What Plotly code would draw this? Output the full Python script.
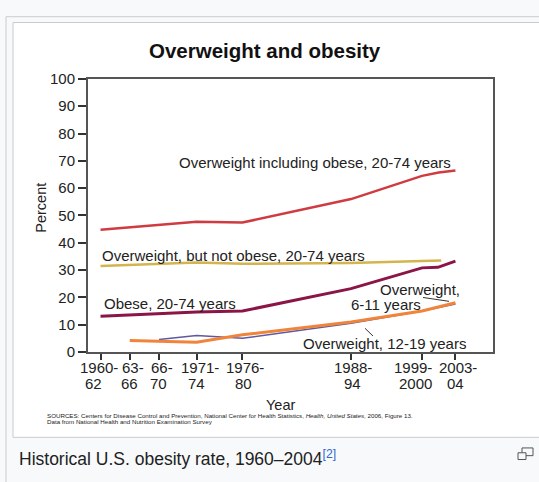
import plotly.graph_objects as go

W, H = 539, 482

# ---- data ----
tick_pos = [1961, 1964.5, 1968, 1972.5, 1978, 1991, 1999.5, 2003.5]
tick_top = ["1960-", "63-", "66-", "1971-", "1976-", "1988-", "1999-", "2003-"]
tick_bot = ["62", "66", "70", "74", "80", "94", "2000", "04"]

ow_incl_x = [1961, 1972.5, 1978, 1991, 1999.5, 2001.5, 2003.5]
ow_incl_y = [44.8, 47.7, 47.4, 56.0, 64.5, 65.7, 66.5]

ow_not_x = [1961, 1972.5, 1978, 1991, 1999.5, 2001.8]
ow_not_y = [31.5, 32.8, 32.3, 32.6, 33.3, 33.5]

obese_x = [1961, 1972.5, 1978, 1991, 1999.5, 2001.4, 2003.5]
obese_y = [13.1, 14.6, 15.0, 23.2, 30.8, 31.0, 33.3]

ow611_x = [1964.5, 1968, 1972.5, 1978, 1991, 1999.5, 2003.5]
ow611_y = [4.2, 4.0, 3.6, 6.3, 11.0, 15.0, 18.0]

ow1219_x = [1968, 1972.5, 1978, 1991, 1999.5, 2003.5]
ow1219_y = [4.6, 6.0, 5.0, 10.5, 15.0, 17.6]

FONT = "Liberation Sans, Arial, sans-serif"

# label nudges (pixels) for the two-line tick labels
top_shift = [-2, 3, 3, 3, 3, 2, -9, 3]
bot_shift = [-7, 0, 0, 0, 1, 1, -7, 0]


def px(x):
    return x / W


def py(y):
    return 1 - y / H


fig = go.Figure()
series = [
    (ow_incl_x, ow_incl_y, "#cf3b40", 2.5),
    (ow_not_x, ow_not_y, "#d4b44e", 2.5),
    (obese_x, obese_y, "#8a1546", 3),
    (ow1219_x, ow1219_y, "#5d5aa0", 1.5),
    (ow611_x, ow611_y, "#f0843a", 3),
]
for xs, ys, c, w in series:
    fig.add_trace(go.Scatter(x=xs, y=ys, mode="lines", line=dict(color=c, width=w),
                             showlegend=False, hoverinfo="skip"))

shapes = [
    dict(type="rect", xref="paper", yref="paper", x0=px(6), x1=px(560), y0=py(8), y1=py(500),
         line=dict(color="#c8ccd1", width=1), fillcolor="#f8f9fa", layer="below"),
    dict(type="rect", xref="paper", yref="paper", x0=px(13), x1=px(560), y0=py(14), y1=py(444),
         line=dict(color="#c8ccd1", width=1), fillcolor="#ffffff", layer="below"),
    dict(type="line", xref="paper", yref="paper", x0=px(423), y0=py(299), x1=px(449), y1=py(303),
         line=dict(color="#333", width=1)),
    dict(type="line", xref="paper", yref="paper", x0=px(365), y0=py(331), x1=px(373), y1=py(339),
         line=dict(color="#333", width=1)),
    dict(type="rect", xref="paper", yref="paper", x0=px(522), x1=px(533), y0=py(455), y1=py(463),
         line=dict(color="#555", width=1)),
    dict(type="rect", xref="paper", yref="paper", x0=px(518), x1=px(526), y0=py(460), y1=py(467),
         line=dict(color="#555", width=1), fillcolor="#f8f9fa"),
]

ann = []


def text(t, x, y, size, xanchor="left", color="#222", angle=0):
    ann.append(dict(text=t, x=px(x), y=py(y), xref="paper", yref="paper", showarrow=False,
                    xanchor=xanchor, yanchor="middle", textangle=angle,
                    font=dict(family=FONT, size=size, color=color)))


for v, t1, t2, s1, s2 in zip(tick_pos, tick_top, tick_bot, top_shift, bot_shift):
    ann.append(dict(text=t1, x=v, xref="x", y=py(372), yref="paper", showarrow=False,
                    xanchor="center", yanchor="middle", xshift=s1,
                    font=dict(family=FONT, size=15, color="#222")))
    ann.append(dict(text=t2, x=v, xref="x", y=py(388), yref="paper", showarrow=False,
                    xanchor="center", yanchor="middle", xshift=s2,
                    font=dict(family=FONT, size=15, color="#222")))

text("<b>Overweight and obesity</b>", 265, 43, 20.5, "center", "#111")
text("Percent", 41, 206, 14.5, "center", angle=-90)
text("Year", 280, 410, 14.5, "center")
text("Overweight including obese, 20-74 years", 177, 159, 15)
text("Overweight, but not obese, 20-74 years", 100, 255, 15)
text("Obese, 20-74 years", 102, 305, 15)
text("Overweight,", 378, 291, 15)
text("6-11 years", 349, 306, 15)
text("Overweight, 12-19 years", 301, 347, 15)
text("SOURCES: Centers for Disease Control and Prevention, National Center for Health Statistics, "
     "<i>Health, United States</i>, 2006, Figure 13.", 45, 421, 6.2)
text("Data from National Health and Nutrition Examination Survey", 45, 428, 6.2)
text("Historical U.S. obesity rate, 1960\u20132004<sup><span style='color:#3366cc'>[2]</span></sup>",
     17, 465, 17.5, color="#202122")

fig.update_layout(
    width=W, height=H, margin=dict(l=0, r=0, t=0, b=0),
    paper_bgcolor="#f8f9fa", plot_bgcolor="rgba(0,0,0,0)",
    shapes=shapes, annotations=ann,
    xaxis=dict(domain=[px(88), px(493)], range=[1959.5, 2008], tickvals=tick_pos,
               showticklabels=False, ticks="outside", ticklen=6, tickwidth=2,
               tickcolor="#333", showgrid=False, zeroline=False, showline=True, mirror=True,
               linecolor="#555", linewidth=2),
    yaxis=dict(domain=[py(355.5), py(72.5)], range=[0, 100], tickvals=list(range(0, 101, 10)),
               ticks="outside", ticklen=8, tickwidth=2, tickcolor="#333",
               showgrid=False, zeroline=False, showline=True, mirror=True, linecolor="#555",
               linewidth=2, tickfont=dict(family=FONT, size=15, color="#222")),
)

fig.write_html("out.html", config={"displayModeBar": False},
               post_script="document.body.style.margin='0px';")
